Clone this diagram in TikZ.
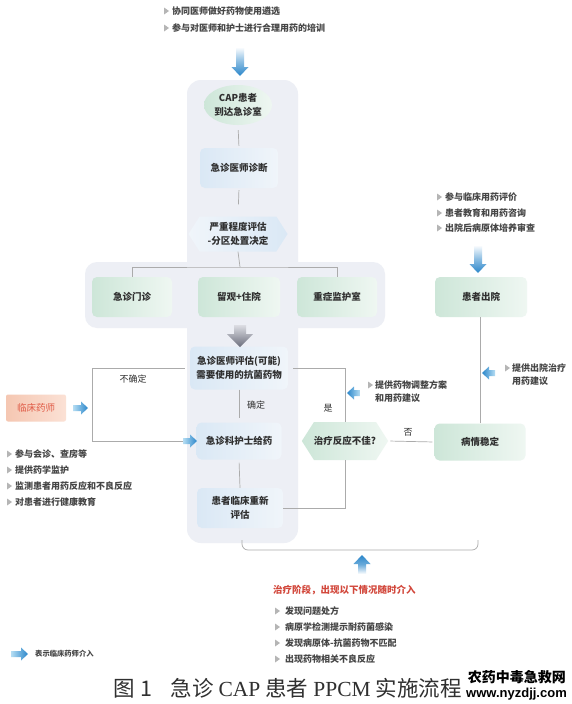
\documentclass[tikz,border=0pt]{standalone}
\usepackage{fontspec}
\setmainfont{Noto Sans CJK SC}
\newfontfamily\serifl{Liberation Serif}
\newfontfamily\sansl{Liberation Sans}
\usetikzlibrary{shapes.geometric,shapes.symbols}
\definecolor{txt}{HTML}{303030}
\definecolor{linegray}{HTML}{ABABAB}
\definecolor{panel}{HTML}{EDEFF5}
\definecolor{bluL}{HTML}{DAE8F5}
\definecolor{bluR}{HTML}{F0F5FA}
\definecolor{grnL}{HTML}{CDE6D8}
\definecolor{grnR}{HTML}{EFF7F2}
\definecolor{peachL}{HTML}{F5C7B2}
\definecolor{peachR}{HTML}{FBE1D5}
\definecolor{pharmtxt}{HTML}{E05A45}
\definecolor{redtxt}{HTML}{D2473B}
\definecolor{trigray}{HTML}{B5B5B5}
\definecolor{arrB}{HTML}{2A86CA}
\definecolor{arrLt}{HTML}{B5DDF3}
\definecolor{grayT}{HTML}{DCDDE3}
\definecolor{grayB}{HTML}{6B6E7C}
\newcommand{\arrR}[3]{\shade[left color=arrLt, right color=arrB] (#1,#3-3) -- (#2-7,#3-3) -- (#2-7,#3-6.5) -- (#2,#3) -- (#2-7,#3+6.5) -- (#2-7,#3+3) -- (#1,#3+3) -- cycle;}
\newcommand{\arrLf}[3]{\shade[left color=arrB, right color=arrLt] (#2,#3-3) -- (#1+7,#3-3) -- (#1+7,#3-6.5) -- (#1,#3) -- (#1+7,#3+6.5) -- (#1+7,#3+3) -- (#2,#3+3) -- cycle;}
\newcommand{\arrDn}[5]{\shade[top color=white, bottom color=arrB, middle color=arrB!55] (#1-#4,#2) -- (#1-#4,#3-9) -- (#1-#5,#3-9) -- (#1,#3) -- (#1+#5,#3-9) -- (#1+#4,#3-9) -- (#1+#4,#2) -- cycle;}
\newcommand{\arrUp}[5]{\shade[bottom color=white, top color=arrB, middle color=arrB!70] (#1-#4,#2) -- (#1-#4,#3+9) -- (#1-#5,#3+9) -- (#1,#3) -- (#1+#5,#3+9) -- (#1+#4,#3+9) -- (#1+#4,#2) -- cycle;}
\newcommand{\tri}[2]{\fill[trigray] (#1,#2-3.5) -- (#1+5,#2) -- (#1,#2+3.5) -- cycle;}
\begin{document}
\begin{tikzpicture}[x=1pt,y=-1pt,
  line/.style={draw=linegray, line width=0.7pt},
  boxtxt/.style={font=\fontsize{9.5}{14}\selectfont\bfseries, text=txt, align=center},
  bluebox/.style={boxtxt, rectangle, rounded corners=5pt, left color=bluL, right color=bluR, inner sep=0pt},
  greenbox/.style={boxtxt, rectangle, rounded corners=5pt, left color=grnL, right color=grnR, inner sep=0pt},
  greenell/.style={boxtxt, ellipse, inner sep=-8pt, left color=grnL, right color=grnR},
  hexblue/.style={boxtxt, signal, signal to=west and east, signal pointer angle=115, inner sep=0pt, left color=bluR, right color=bluL},
  hexgreen/.style={boxtxt, signal, signal to=west and east, signal pointer angle=115, inner sep=0pt, left color=grnL, right color=grnR},
  peachbox/.style={rectangle, rounded corners=2pt, left color=peachL, right color=peachR, inner sep=0pt, font=\fontsize{9.5}{12}\selectfont, text=pharmtxt},
  bul/.style={font=\fontsize{9}{13}\selectfont\bfseries, text=txt!90, anchor=west, inner sep=0pt, align=left},
  lbl/.style={font=\fontsize{9}{11}\selectfont, text=txt, inner sep=0pt}]
\useasboundingbox (0,0) rectangle (571,704);
\fill[white] (0,0) rectangle (571,704);
% panels
\fill[panel, rounded corners=14pt] (187,80) rectangle (298,543);
\fill[panel, rounded corners=12pt] (85,262) rectangle (385,328);
% top bullets
\tri{164}{11}\node[bul] (b1) at (172,11) {协同医师做好药物使用遴选};
\tri{164}{28}\node[bul] (b2) at (172,28) {参与对医师和护士进行合理用药的培训};
\arrDn{240}{47}{76}{4}{8.5}
% nodes
\node[greenell, minimum width=68pt, minimum height=40pt] (cap) at (238,105) {CAP患者\\到达急诊室};
\node[bluebox, minimum width=78pt, minimum height=40pt] (diag) at (239,168) {急诊医师诊断};
\node[hexblue, minimum width=99pt, minimum height=35pt] (sev) at (238,234) {严重程度评估\\-分区处置决定};
\node[greenbox, minimum width=80pt, minimum height=40pt] (opd) at (132,297) {急诊门诊};
\node[greenbox, minimum width=82pt, minimum height=40pt] (obs) at (239,297) {留观+住院};
\node[greenbox, minimum width=80pt, minimum height=40pt] (icu) at (337,297) {重症监护室};
\node[bluebox, minimum width=98pt, minimum height=43pt] (eval) at (239,368) {急诊医师评估(可能)\\需要使用的抗菌药物};
\node[bluebox, minimum width=85pt, minimum height=37pt] (nurse) at (239,441) {急诊科护士给药};
\node[bluebox, minimum width=86pt, minimum height=40pt] (reeval) at (240,508) {患者临床重新\\评估};
\node[hexgreen, minimum width=86pt, minimum height=38pt] (resp) at (345,441) {治疗反应不佳?};
\node[greenbox, minimum width=91pt, minimum height=37pt] (stable) at (480,442) {病情稳定};
\node[greenbox, minimum width=92pt, minimum height=40pt] (disch) at (481,297) {患者出院};
\node[peachbox, minimum width=60pt, minimum height=27pt] (pharm) at (36,408) {临床药师};
% gray arrow
\shade[top color=grayT, bottom color=grayB] (234,325) -- (234,334) -- (227,334) -- (240,347) -- (253,334) -- (246,334) -- (246,325) -- cycle;
% connectors
\draw[line, shorten <=5pt, shorten >=2pt] (cap.south) -- (diag.north);
\draw[line, shorten <=2pt, shorten >=12pt] (diag.south) -- (sev.north);
\coordinate (j) at (240,267);
\draw[line] (sev.south) -- (j);
\draw[line] (opd.north) |- (j) -| (icu.north);
\draw[line, shorten >=4pt] (eval.south) -- (nurse.north);
\draw[line, shorten <=3pt] (nurse.south) -- (reeval.north);
\coordinate (ul) at (92,368);
\coordinate (ub) at (92,441);
\coordinate (na) at (183,441);
\draw[line, shorten <=5pt] (eval.west) -- (ul) -- (ub) -- (na);
\coordinate (rb) at (345,508);
\draw[line] (reeval.east) -- (rb) -- (resp.south);
\coordinate (rt) at (345,368);
\draw[line, shorten >=5pt] (resp.north) -- (rt) -- (eval.east);
\draw[line, shorten <=2pt, shorten >=2pt] (resp.east) -- (stable.west);
\draw[line] (stable.north) -- (stable.north |- disch.south);
% labels
\node[lbl] (l1) at (133,379) {不确定};
\node[lbl] (l2) at (256,405) {确定};
\node[lbl] (l3) at (328,408) {是};
\node[lbl] (l4) at (408,432) {否};
% pharmacist arrows
\arrR{73}{88}{408}
\arrR{183}{197}{441}
\arrLf{347}{360}{393}
\arrLf{482}{495}{373}
% left bullets
\tri{7}{454}\node[bul] (c1) at (15,454) {参与会诊、查房等};
\tri{7}{470}\node[bul] (c2) at (15,470) {提供药学监护};
\tri{7}{486}\node[bul] (c3) at (15,486) {监测患者用药反应和不良反应};
\tri{7}{502}\node[bul] (c4) at (15,502) {对患者进行健康教育};
% right bullets
\tri{437}{197}\node[bul] (d1) at (445,197) {参与临床用药评价};
\tri{437}{213}\node[bul] (d2) at (445,213) {患者教育和用药咨询};
\tri{437}{228}\node[bul] (d3) at (445,228) {出院后病原体培养审查};
\arrDn{478}{245}{273}{4}{8.5}
\tri{368}{385}\node[bul] (e1) at (375,391.5) {提供药物调整方案\\和用药建议};
\tri{505}{368}\node[bul] (e2) at (512,374.5) {提供出院治疗\\用药建议};
% bracket
\coordinate (k1) at (242,540);
\coordinate (k2) at (242,550);
\coordinate (k3) at (478,550);
\coordinate (k4) at (478,540);
\draw[line, rounded corners=6pt] (k1) -- (k2) -- (k3) -- (k4);
\arrUp{362}{574}{555}{4}{8.5}
\node[bul, font=\fontsize{9.5}{12}\selectfont\bfseries, text=redtxt] (h1) at (273,590) {治疗阶段，出现以下情况随时介入};
\tri{275}{611}\node[bul] (f1) at (285,611) {发现问题处方};
\tri{275}{627}\node[bul] (f2) at (285,627) {病原学检测提示耐药菌感染};
\tri{275}{643}\node[bul] (f3) at (285,643) {发现病原体-抗菌药物不匹配};
\tri{275}{659}\node[bul] (f4) at (285,659) {出现药物相关不良反应};
% legend
\arrR{11}{28}{654}
\node[bul, font=\fontsize{7.3}{9}\selectfont\bfseries] (lg) at (35,654) {表示临床药师介入};
% caption
\node[anchor=west, inner sep=0pt, text=txt] (capt) at (113,688) {\fontsize{21.5}{21.5}\selectfont 图\hspace{6pt}1\hspace{18pt}急诊\hspace{5pt}{\serifl CAP}\hspace{5pt}患者\hspace{5pt}{\serifl PPCM}\hspace{5pt}实施流程};
\node[anchor=east, inner sep=0pt] (wm1) at (566,677) {\fontsize{14}{14}\selectfont\bfseries 农药中毒急救网};
\node[anchor=east, inner sep=0pt] (wm2) at (567,694) {\sansl\bfseries\fontsize{13}{13}\selectfont www.nyzdjj.com};
\end{tikzpicture}
\end{document}
